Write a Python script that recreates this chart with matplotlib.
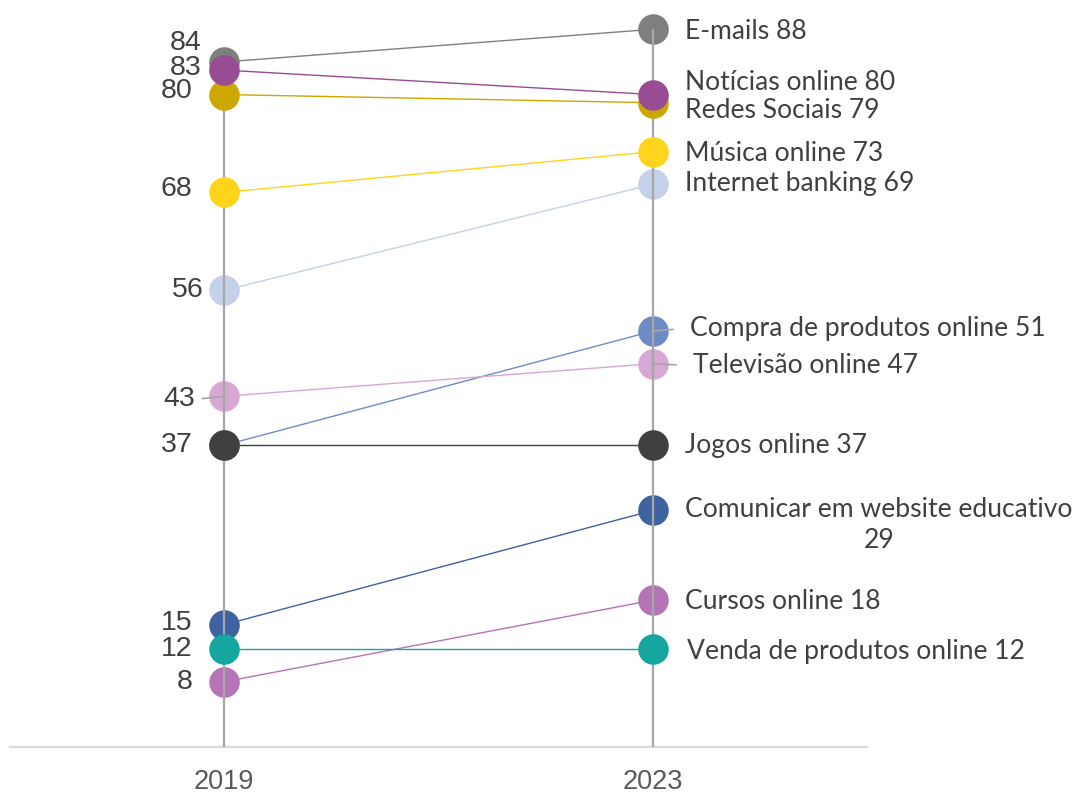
import matplotlib
matplotlib.use("Agg")
import matplotlib.pyplot as plt

# dados (percentagens)
years = ["2019", "2023"]
series = ["E-mails", "Notícias online", "Redes Sociais", "Música online",
          "Internet banking", "Compra de produtos online", "Televisão online",
          "Jogos online", "Comunicar em website educativo", "Cursos online",
          "Venda de produtos online"]
v2019 = [84, 83, 80, 68, 56, 37, 43, 37, 15, 8, 12]
v2023 = [88, 80, 79, 73, 69, 51, 47, 37, 29, 18, 12]
colors = ["#7F7F7F", "#984C93", "#CCA700", "#FFD41A", "#C5D1E8", "#6F8BC6",
          "#D7A8D3", "#404040", "#3F62A0", "#B574B5", "#16A6A0"]
# ordem de desenho (linha vertical fica em 3)
zorders = [2, 5, 4, 4, 2, 2, 2, 4, 2, 2, 4]

# posicao dos rotulos (offset em pixels: dx, dy)
left_off = [(-23, 19), (-23, 2), (-32, 4), (-32, 3), (-21, 0), None,
            (-29, -3), (-32, 0), (-32, 2), (-32, 0), (-32, 0)]
right_off = [(32, -2), (32, 12), (32, -8), (32, -2), (32, 1), (37, 3),
             (40, -2), (32, 0), (226, -15), (32, -1), (34, -2)]
leader_left = [False] * 6 + [True] + [False] * 4
leader_right = [False] * 5 + [True, True] + [False] * 4

fig = plt.figure(figsize=(10.75, 7.94), dpi=100)
ax = fig.add_axes([10 / 1075, 1 - 747 / 794, 857 / 1075, 734 / 794])
x = [0, 1]

for i, name in enumerate(series):
    ax.plot(x, [v2019[i], v2023[i]], color=colors[i], lw=1.0, marker="o",
            markersize=22, markeredgewidth=0, zorder=zorders[i])

# linhas verticais em cada ano
ax.vlines(0, 0, max(v2019), color="#A6A6A6", lw=1.6, zorder=3)
ax.vlines(1, 0, max(v2023), color="#A6A6A6", lw=1.6, zorder=3)

lab_font = dict(family=["Liberation Sans", "DejaVu Sans"], size=20.5, color="#404040")
for i, name in enumerate(series):
    if left_off[i] is None:
        continue
    dx, dy = left_off[i]
    arrow = None
    if leader_left[i]:
        arrow = dict(arrowstyle="-", color="#A6A6A6", lw=1.2, shrinkA=3, shrinkB=0,
                     relpos=(1, 0.5))
    ax.annotate(str(v2019[i]), (0, v2019[i]), xytext=(dx, dy),
                textcoords="offset pixels", ha="right", va="center",
                arrowprops=arrow, zorder=6, **lab_font)

r_font = dict(family=["Lato", "DejaVu Sans"], size=19.1, color="#404040")
for i, name in enumerate(series):
    dx, dy = right_off[i]
    arrow = None
    if leader_right[i]:
        arrow = dict(arrowstyle="-", color="#A6A6A6", lw=1.2, shrinkA=10, shrinkB=0,
                     relpos=(0, 0.5))
    if name.startswith("Comunicar"):
        txt = f"{name}\n{v2023[i]}"
        ha = "center"
    else:
        txt = f"{name} {v2023[i]}"
        ha = "left"
    ax.annotate(txt, (1, v2023[i]), xytext=(dx, dy), textcoords="offset pixels",
                ha=ha, va="center", linespacing=1.3, arrowprops=arrow,
                zorder=6, **r_font)

ax.set_xlim(-0.5, 1.5)
ax.set_ylim(0, 90)
ax.set_xticks(x)
ax.set_xticklabels(years, family=["Liberation Sans", "DejaVu Sans"], size=19.5,
                   color="#595959")
ax.tick_params(axis="x", length=0, pad=16)
ax.set_yticks([])
for s in ["top", "right", "left"]:
    ax.spines[s].set_visible(False)
ax.spines["bottom"].set_color("#D9D9D9")
ax.spines["bottom"].set_linewidth(1.6)
ax.patch.set_alpha(0)

fig.savefig("out.png", dpi=100, facecolor="white")
